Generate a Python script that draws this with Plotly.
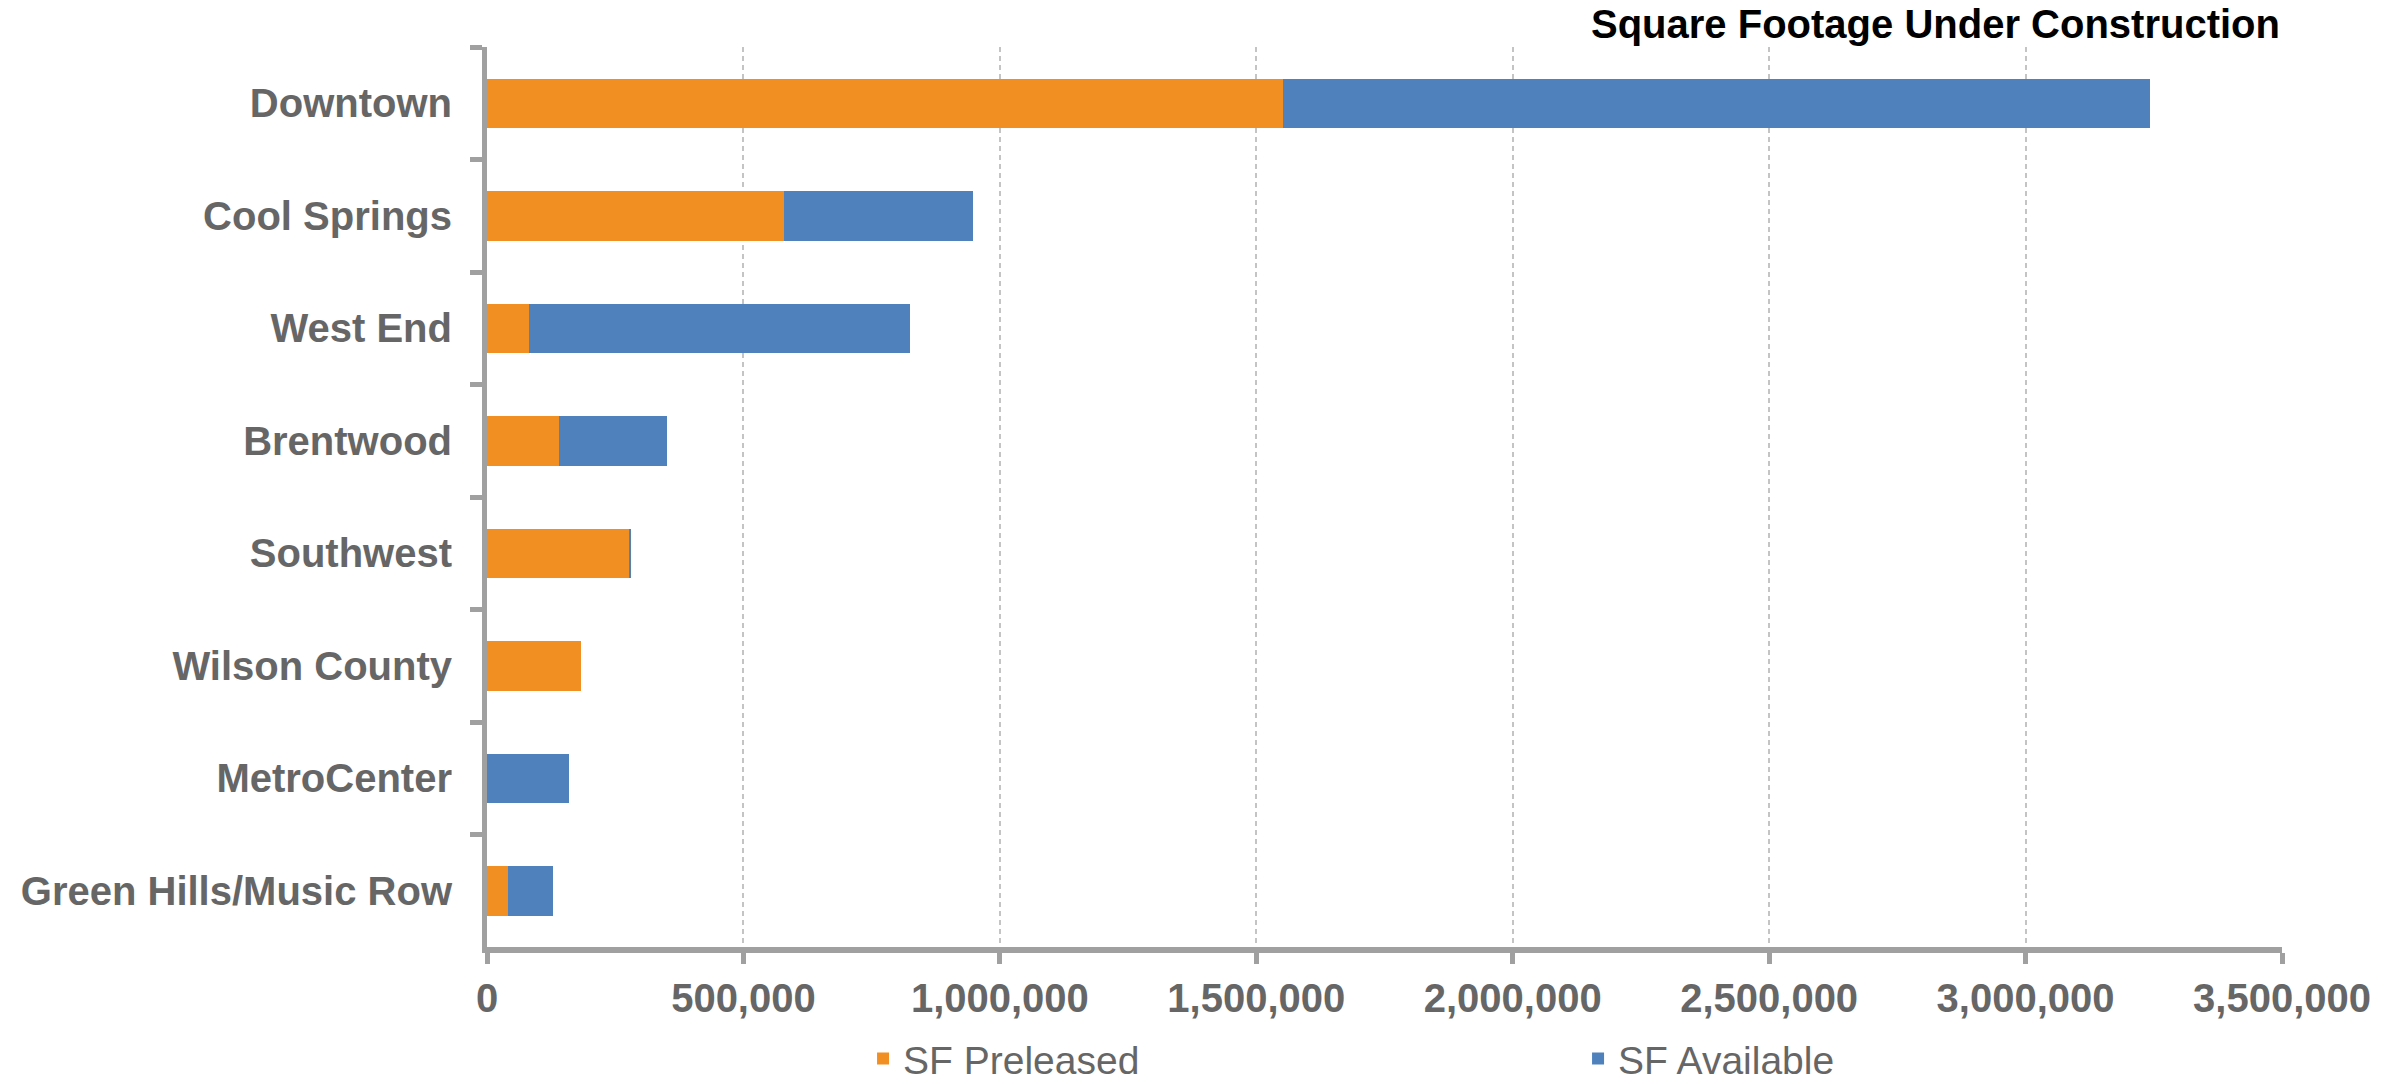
import plotly.graph_objects as go

# Office submarkets and square footage under construction
categories = [
    "Downtown",
    "Cool Springs",
    "West End",
    "Brentwood",
    "Southwest",
    "Wilson County",
    "MetroCenter",
    "Green Hills/Music Row",
]
sf_preleased = [1553000, 580000, 81000, 140000, 278000, 184000, 0, 40000]
sf_available = [1690000, 367000, 743000, 211000, 2500, 0, 159000, 88000]

x_ticks = [0, 500000, 1000000, 1500000, 2000000, 2500000, 3000000, 3500000]

ORANGE = "#F28F22"
BLUE = "#4F81BD"
AXIS_GRAY = "#A0A0A0"
TEXT_GRAY = "#666666"
FONT = "Liberation Sans, Arial, Helvetica, sans-serif"

fig = go.Figure()
fig.add_trace(go.Bar(
    name="SF Preleased",
    y=categories,
    x=sf_preleased,
    orientation="h",
    marker=dict(color=ORANGE, line=dict(width=0)),
))
fig.add_trace(go.Bar(
    name="SF Available",
    y=categories,
    x=sf_available,
    orientation="h",
    marker=dict(color=BLUE, line=dict(width=0)),
))

fig.update_layout(
    width=2402,
    height=1084,
    barmode="stack",
    bargap=0.56,
    plot_bgcolor="white",
    paper_bgcolor="white",
    margin=dict(l=487, r=120, t=47, b=137, autoexpand=False),
    font=dict(family=FONT, size=40, color=TEXT_GRAY),
    showlegend=True,
    legend=dict(
        orientation="h",
        x=0.2095,
        xanchor="left",
        y=-0.124,
        yanchor="middle",
        font=dict(family=FONT, size=39, color=TEXT_GRAY),
        entrywidth=670,
        entrywidthmode="pixels",
        traceorder="normal",
        bgcolor="rgba(0,0,0,0)",
    ),
    annotations=[
        dict(
            text="Square Footage Under Construction",
            xref="paper",
            yref="paper",
            x=1.0,
            y=1.026,
            xanchor="right",
            yanchor="middle",
            showarrow=False,
            font=dict(family=FONT, size=40, color="black", weight="bold"),
        )
    ],
)

fig.update_xaxes(
    range=[0, 3500000],
    tickvals=x_ticks,
    tickformat=",d",
    showgrid=True,
    gridcolor="#C4C4C4",
    gridwidth=1.5,
    griddash="5px,4px",
    zeroline=False,
    showline=True,
    linecolor=AXIS_GRAY,
    linewidth=6,
    ticks="outside",
    ticklen=11,
    tickwidth=5,
    tickcolor=AXIS_GRAY,
    ticklabelstandoff=0,
    tickfont=dict(family=FONT, size=40, color=TEXT_GRAY, weight="bold"),
)

fig.update_yaxes(
    type="category",
    autorange="reversed",
    showgrid=False,
    zeroline=False,
    showline=True,
    linecolor=AXIS_GRAY,
    linewidth=5,
    ticks="outside",
    tickson="boundaries",
    ticklen=12,
    tickwidth=5,
    tickcolor=AXIS_GRAY,
    ticklabelstandoff=22,
    tickfont=dict(family=FONT, size=40, color=TEXT_GRAY, weight="bold"),
)

fig.write_html("out.html")
